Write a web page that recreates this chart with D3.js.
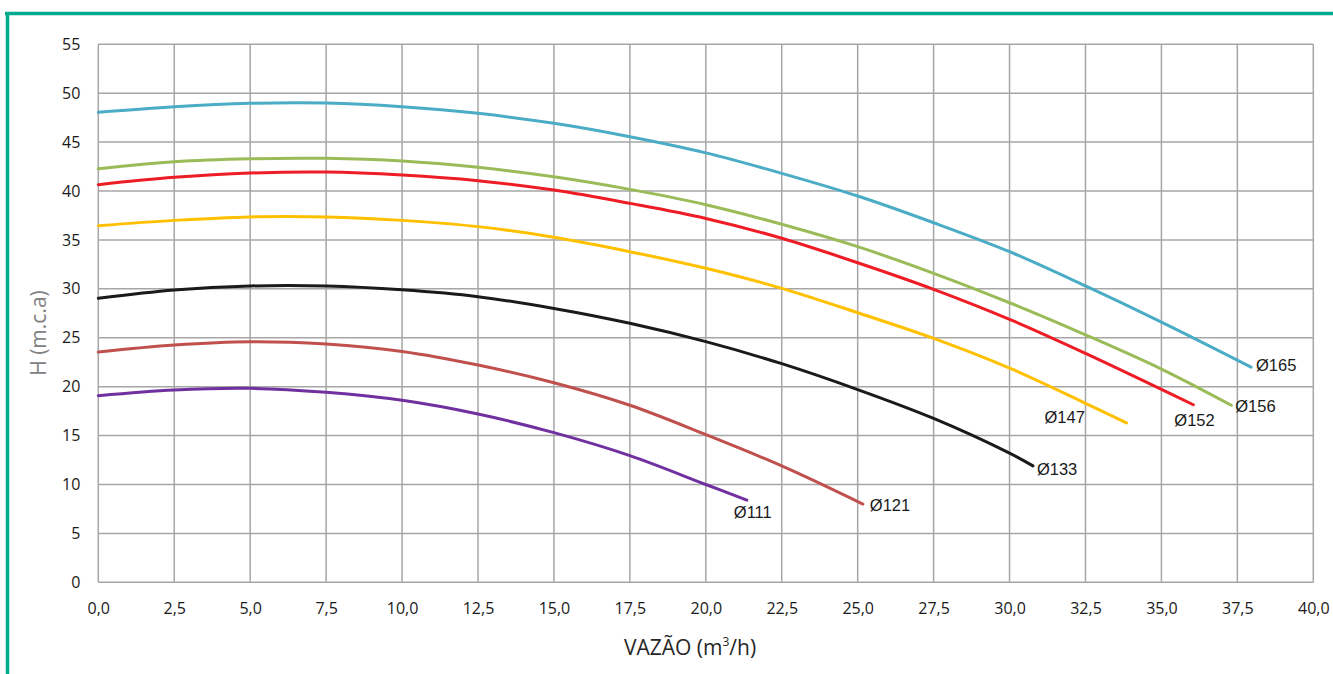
<!DOCTYPE html>
<html>
<head>
<meta charset="utf-8">
<script src="https://cdn.jsdelivr.net/npm/d3@7"></script>
<style>
  html, body { margin: 0; padding: 0; background: #ffffff; }
  svg { display: block; }
</style>
</head>
<body>
<svg id="chart" width="1333" height="674"></svg>
<script>
// ---------- DATA ----------
const flowGrid = [0, 2.5, 5, 7.5, 10, 12.5, 15, 17.5, 20, 22.5, 25, 27.5, 30, 32.5, 35];

const seriesNames = ["Ø165", "Ø156", "Ø152", "Ø147", "Ø133", "Ø121", "Ø111"];

const head165 = [48.05, 48.62, 48.97, 49.0, 48.62, 47.94, 46.92, 45.55, 43.9, 41.81, 39.49, 36.76, 33.8, 30.3, 26.6];
const head156 = [42.28, 43.0, 43.3, 43.34, 43.07, 42.42, 41.46, 40.17, 38.6, 36.6, 34.31, 31.59, 28.58, 25.3, 21.8];
const head152 = [40.65, 41.4, 41.84, 41.94, 41.64, 41.06, 40.1, 38.74, 37.2, 35.17, 32.67, 29.95, 26.88, 23.4];
const head147 = [36.45, 37.0, 37.35, 37.35, 37.0, 36.36, 35.27, 33.8, 32.1, 30.05, 27.56, 24.94, 21.9, 18.3];
const head133 = [29.03, 29.88, 30.29, 30.29, 29.9, 29.2, 28.0, 26.48, 24.6, 22.35, 19.7, 16.75, 13.2];
const head121 = [23.54, 24.26, 24.6, 24.36, 23.6, 22.21, 20.4, 18.1, 15.1, 11.9];
const head111 = [19.08, 19.66, 19.83, 19.42, 18.6, 17.2, 15.3, 12.95, 10.0];

// last point of each curve (flow, head)
const endFlow = [37.95, 37.3, 36.05, 33.85, 30.77, 25.17, 21.35];
const endHead = [22.0, 18.1, 18.15, 16.3, 11.9, 8.0, 8.4];

const xTicks = [0, 2.5, 5, 7.5, 10, 12.5, 15, 17.5, 20, 22.5, 25, 27.5, 30, 32.5, 35, 37.5, 40];
const yTicks = [0, 5, 10, 15, 20, 25, 30, 35, 40, 45, 50, 55];

const xTitle = "VAZÃO (m";
const yTitle = "H (m.c.a)";

// ---------- STYLE ----------
const colors = ["#4bacc6", "#9bbb59", "#ee1c25", "#ffc000", "#1a1a1a", "#c0504d", "#7030a0"];
// label offsets from curve end (px)
const labelDx = [5, 4, -19, -82, 4, 7, -13];
const labelDy = [4, 7, 21, 0, 9, 7, 18];

const svg = d3.select("#chart");
const W = 1333, H = 674;
const plot = { left: 98.3, right: 1313.3, top: 44.3, bottom: 582.3 };

// frame
svg.append("line").attr("x1", 5).attr("x2", W).attr("y1", 13.5).attr("y2", 13.5)
  .attr("stroke", "#00ab8e").attr("stroke-width", 3.5);
svg.append("line").attr("x1", 7.5).attr("x2", 7.5).attr("y1", 12).attr("y2", H)
  .attr("stroke", "#00ab8e").attr("stroke-width", 3.5);

const x = d3.scaleLinear().domain([0, 40]).range([plot.left, plot.right]);
const y = d3.scaleLinear().domain([0, 55]).range([plot.bottom, plot.top]);

const fmtX = v => d3.format(".1f")(v).replace(".", ",");
const tickFont = "'Open Sans', 'DejaVu Sans', sans-serif";

// gridlines
const grid = svg.append("g");
grid.selectAll("line.v").data(xTicks).join("line")
  .attr("x1", d => x(d)).attr("x2", d => x(d))
  .attr("y1", plot.top).attr("y2", plot.bottom)
  .attr("stroke", "#a6a6a6").attr("stroke-width", 1.5);
grid.selectAll("line.h").data(yTicks).join("line")
  .attr("x1", plot.left).attr("x2", plot.right)
  .attr("y1", d => y(d)).attr("y2", d => y(d))
  .attr("stroke", "#a6a6a6").attr("stroke-width", 1.5);

// axes (labels only, via d3 axes)
const xAxis = svg.append("g").attr("transform", `translate(0,${plot.bottom})`)
  .call(d3.axisBottom(x).tickValues(xTicks).tickFormat(fmtX).tickSize(0).tickPadding(20));
xAxis.select(".domain").remove();
xAxis.selectAll("text").attr("font-family", tickFont).attr("font-size", 16).attr("fill", "#1a1a1a");

const yAxis = svg.append("g").attr("transform", `translate(${plot.left},0)`)
  .call(d3.axisLeft(y).tickValues(yTicks).tickFormat(d3.format("d")).tickSize(0).tickPadding(18));
yAxis.select(".domain").remove();
yAxis.selectAll("text").attr("font-family", tickFont).attr("font-size", 16).attr("fill", "#1a1a1a");

// titles
const xt = svg.append("text").attr("x", 690).attr("y", 655).attr("text-anchor", "middle")
  .attr("font-family", tickFont).attr("font-size", 21).attr("fill", "#262626");
xt.append("tspan").text(xTitle);
xt.append("tspan").attr("font-size", 12).attr("dy", -9).text("3");
xt.append("tspan").attr("dy", 9).text("/h)");

svg.append("text").attr("transform", "translate(46,333) rotate(-90)").attr("text-anchor", "middle")
  .attr("font-family", tickFont).attr("font-size", 21).attr("fill", "#808080").text(yTitle);

// curves
const heads = [head165, head156, head152, head147, head133, head121, head111];
const line = d3.line().x(d => x(d[0])).y(d => y(d[1])).curve(d3.curveCatmullRom.alpha(0.5));

heads.forEach((hs, i) => {
  const pts = hs.map((h, j) => [flowGrid[j], h]);
  pts.push([endFlow[i], endHead[i]]);
  svg.append("path").datum(pts).attr("d", line)
    .attr("fill", "none").attr("stroke", colors[i]).attr("stroke-width", 3)
    .attr("stroke-linecap", "round");
  svg.append("text")
    .attr("x", x(endFlow[i]) + labelDx[i]).attr("y", y(endHead[i]) + labelDy[i])
    .attr("font-family", "'Liberation Sans', Arial, sans-serif").attr("font-size", 16.5)
    .attr("fill", "#1a1a1a").text(seriesNames[i]);
});
</script>
</body>
</html>
